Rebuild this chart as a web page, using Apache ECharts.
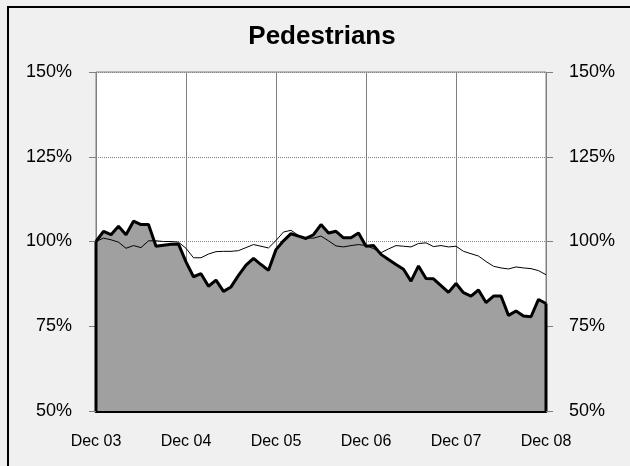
<!DOCTYPE html>
<html>
<head>
<meta charset="utf-8">
<script src="https://cdn.jsdelivr.net/npm/echarts@6/dist/echarts.min.js"></script>
<style>
html,body{margin:0;padding:0;background:#f0f0f0;}
#c{width:630px;height:466px;}
</style>
</head>
<body>
<div id="c"></div>
<script>
const titleText = 'Pedestrians';
const yearLabels = ['Dec 03','Dec 04','Dec 05','Dec 06','Dec 07','Dec 08'];
const monthNames = ['Dec','Jan','Feb','Mar','Apr','May','Jun','Jul','Aug','Sep','Oct','Nov'];
const yTicks = [50, 75, 100, 125, 150];
// Thick series (filled area), % of Dec 03
const pedestrians = [100,103,102,104.5,102,106,105,105,98.6,98.9,99.2,99.2,
  94,89.6,90.5,86.8,88.6,85.3,86.6,90,93,95,93.2,91.5,
  97.6,100.2,102.3,101.6,100.9,102,105,102.5,103,101.1,101.1,102.5,
  98.6,98.8,96.2,94.7,93.2,91.8,88.3,92.8,89.1,89,87,85,
  87.6,84.9,83.9,85.7,82,83.9,83.9,78.2,79.5,78,77.8,82.9,81.7];
// Thin line series
const trend = [100,101,100.5,99.8,98,98.8,98.2,100.2,100.2,100,100,99.8,
  98,95.2,95.2,96.3,97,97.1,97.1,97.3,98.2,99.1,98.6,98.1,
  100.3,102.8,103.3,101.8,101,101,101.6,100.2,98.7,98.4,98.8,99.1,
  98.8,97.9,96.7,97.8,98.8,98.6,98.4,99.4,99.6,98.5,98.8,98.4,
  98.6,97.1,96.4,95.7,94.1,92.7,92.2,91.9,92.5,92.2,92,91.4,90.2];

const categories = [];
for (let i = 0; i < pedestrians.length; i++) {
  const yr = 3 + Math.floor((i + 11) / 12);
  categories.push(monthNames[i % 12] + ' ' + String(yr).padStart(2, '0'));
}
const yMin = yTicks[0], yMax = yTicks[yTicks.length - 1], yStep = yTicks[1] - yTicks[0];
const lastIdx = categories.length - 1;
const leftEdge = [[categories[0], yMin], [categories[0], pedestrians[0]]];
const rightEdge = [[categories[lastIdx], yMin], [categories[lastIdx], pedestrians[lastIdx]]];

const font = 'Liberation Sans, Arial, sans-serif';
const chart = echarts.init(document.getElementById('c'), null, {renderer: 'canvas'});
const yAxisBase = {
  type: 'value', min: yMin, max: yMax, interval: yStep,
  axisLine: {show: false},
  axisTick: {show: true, inside: false, length: 7, lineStyle: {color: '#808080'}},
  axisLabel: {formatter: '{value}%', color: '#000', fontFamily: font, fontSize: 18, margin: 24},
};
chart.setOption({
  backgroundColor: '#f0f0f0',
  animation: false,
  graphic: [{
    type: 'rect', shape: {x: 8, y: 7, width: 660, height: 500},
    style: {fill: 'none', stroke: '#000', lineWidth: 2}, silent: true
  }, {
    type: 'text', x: 322, y: 37, silent: true,
    style: {text: titleText, fill: '#000', font: 'bold 26px ' + font,
      textAlign: 'center', textVerticalAlign: 'middle'}
  }],
  grid: {left: 96, right: 84, top: 72, bottom: 55, show: true,
    backgroundColor: '#fff', borderColor: '#808080', borderWidth: 1},
  xAxis: {
    type: 'category', data: categories, boundaryGap: false,
    axisLine: {show: true, lineStyle: {color: '#000', width: 3}},
    axisTick: {show: true, inside: true, length: 4, interval: 11, lineStyle: {color: '#555'}},
    axisLabel: {
      interval: 11, color: '#000', fontFamily: font, fontSize: 16, margin: 23,
      formatter: (v, i) => yearLabels[Math.round(i / 12)]
    },
    splitLine: {show: true, interval: 11, lineStyle: {color: '#808080', width: 1}}
  },
  yAxis: [
    Object.assign({}, yAxisBase, {position: 'left',
      splitLine: {show: true, lineStyle: {color: '#808080', type: [1, 1], width: 1}}}),
    Object.assign({}, yAxisBase, {position: 'right', splitLine: {show: false},
      axisLabel: Object.assign({}, yAxisBase.axisLabel, {margin: 23})})
  ],
  series: [
    {
      name: 'Pedestrians', type: 'line', data: pedestrians, symbol: 'none',
      lineStyle: {color: '#000', width: 3}, areaStyle: {color: '#a0a0a0', opacity: 1, origin: 'start'},
      z: 2
    },
    {
      name: 'Trend', type: 'line', data: trend, symbol: 'none',
      lineStyle: {color: '#000', width: 1}, z: 3
    },
    {type: 'line', data: leftEdge, symbol: 'none', lineStyle: {color: '#000', width: 3}, z: 4},
    {type: 'line', data: rightEdge, symbol: 'none', lineStyle: {color: '#000', width: 3}, z: 4}
  ]
});
</script>
</body>
</html>
